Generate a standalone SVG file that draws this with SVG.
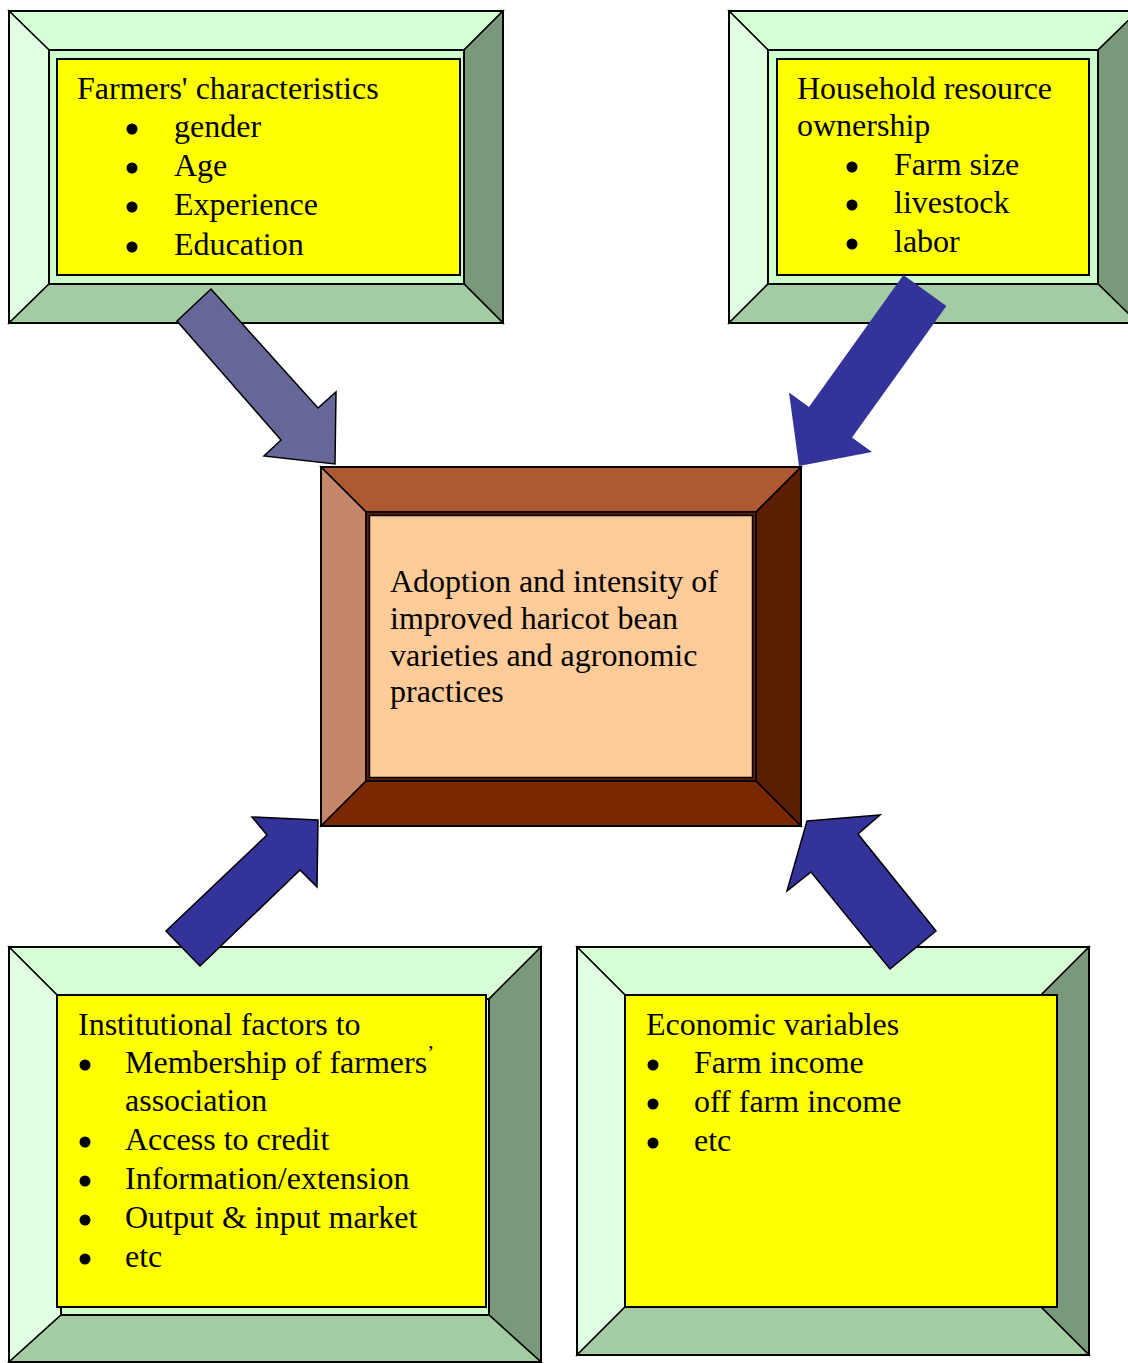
<svg xmlns="http://www.w3.org/2000/svg" width="1128" height="1363" viewBox="0 0 1128 1363">
<style>
text{font-family:"Liberation Serif","Times New Roman",serif;font-size:32px;fill:#000}
.bt{fill:#d6ffd6;stroke:#000;stroke-width:1.5;stroke-linejoin:miter}
.bl{fill:#e0ffe0;stroke:#000;stroke-width:1.5}
.br{fill:#7a997a;stroke:#000;stroke-width:1.5}
.bb{fill:#a3cca3;stroke:#000;stroke-width:1.5}
.in{fill:#ccffcc;stroke:#000;stroke-width:2}
.yl{fill:#ffff00;stroke:#000;stroke-width:2}
.ol{fill:none;stroke:#000;stroke-width:2}
.ct{fill:#ad5a32;stroke:#000;stroke-width:1.5}
.cl{fill:#c4876a;stroke:#000;stroke-width:1.5}
.cr{fill:#5a1e02;stroke:#000;stroke-width:1.5}
.cb{fill:#7a2800;stroke:#000;stroke-width:1.5}
.dot{fill:#000}
.a1{fill:#666699;stroke:#000;stroke-width:1.5;stroke-linejoin:miter}
.a2{fill:#333399;stroke:#000;stroke-width:1.5;stroke-linejoin:miter}
.a3{fill:#333399;stroke:none}
</style>
<rect width="1128" height="1363" fill="#fff"/>

<g id="farmers">
<polygon class="bt" points="9,11 503,11 464,50 49,50"/>
<polygon class="bl" points="9,11 49,50 49,284 9,323"/>
<polygon class="br" points="503,11 503,323 464,284 464,50"/>
<polygon class="bb" points="9,323 49,284 464,284 503,323"/>
<rect class="ol" x="9" y="11" width="494" height="312"/>
<rect class="in" x="49" y="50" width="415" height="234"/>
<rect class="yl" x="57" y="59" width="403" height="216"/>
<text x="77" y="99">Farmers' characteristics</text>
<circle class="dot" cx="132" cy="129" r="5.5"/><text x="174" y="137">gender</text>
<circle class="dot" cx="132" cy="168" r="5.5"/><text x="174" y="176">Age</text>
<circle class="dot" cx="132" cy="207" r="5.5"/><text x="174" y="215">Experience</text>
<circle class="dot" cx="132" cy="247" r="5.5"/><text x="174" y="255">Education</text>
</g>

<g id="household">
<polygon class="bt" points="729,11 1138,11 1098,50 768,50"/>
<polygon class="bl" points="729,11 768,50 768,284 729,323"/>
<polygon class="br" points="1138,11 1138,323 1098,284 1098,50"/>
<polygon class="bb" points="729,323 768,284 1098,284 1138,323"/>
<rect class="ol" x="729" y="11" width="409" height="312"/>
<rect class="in" x="768" y="50" width="330" height="234"/>
<rect class="yl" x="777" y="59" width="312" height="216"/>
<text x="797" y="99">Household resource</text>
<text x="797" y="136">ownership</text>
<circle class="dot" cx="852" cy="167" r="5.5"/><text x="894" y="175">Farm size</text>
<circle class="dot" cx="852" cy="205" r="5.5"/><text x="894" y="213">livestock</text>
<circle class="dot" cx="852" cy="244" r="5.5"/><text x="894" y="252">labor</text>
</g>

<g id="adoption">
<polygon class="ct" points="321,467 801,467 756,512 366,512"/>
<polygon class="cl" points="321,467 366,512 366,781 321,826"/>
<polygon class="cr" points="801,467 801,826 756,781 756,512"/>
<polygon class="cb" points="321,826 366,781 756,781 801,826"/>
<rect class="ol" x="321" y="467" width="480" height="359"/>
<rect x="366" y="512" width="390" height="269" fill="#5a1e02" stroke="#000" stroke-width="1.5"/>
<rect x="369.5" y="515.5" width="383" height="262" fill="#ffcc99" stroke="#000" stroke-width="1.5"/>
<text x="390" y="592">Adoption and intensity of</text>
<text x="390" y="629">improved haricot bean</text>
<text x="390" y="666">varieties and agronomic</text>
<text x="390" y="702">practices</text>
</g>

<g id="institutional">
<polygon class="bt" points="9,947 541,947 489,999 61,999"/>
<polygon class="bl" points="9,947 61,999 61,1315 9,1362"/>
<polygon class="br" points="541,947 541,1362 489,1315 489,999"/>
<polygon class="bb" points="9,1362 61,1315 489,1315 541,1362"/>
<rect class="ol" x="9" y="947" width="532" height="415"/>
<rect class="in" x="61" y="999" width="428" height="316"/>
<rect class="yl" x="57" y="995" width="429" height="312"/>
<text x="78" y="1035">Institutional factors to</text>
<circle class="dot" cx="85" cy="1065" r="5.5"/><text x="125" y="1073">Membership of farmers</text>
<text x="427" y="1060" style="font-size:22px">’</text>
<text x="125" y="1111">association</text>
<circle class="dot" cx="85" cy="1142" r="5.5"/><text x="125" y="1150">Access to credit</text>
<circle class="dot" cx="85" cy="1181" r="5.5"/><text x="125" y="1189">Information/extension</text>
<circle class="dot" cx="85" cy="1220" r="5.5"/><text x="125" y="1228">Output &amp; input market</text>
<circle class="dot" cx="85" cy="1259" r="5.5"/><text x="125" y="1267">etc</text>
</g>

<g id="economic">
<polygon class="bt" points="577,947 1089,947 1041,995 625,995"/>
<polygon class="bl" points="577,947 625,995 625,1307 577,1355"/>
<polygon class="br" points="1089,947 1089,1355 1041,1307 1041,995"/>
<polygon class="bb" points="577,1355 625,1307 1041,1307 1089,1355"/>
<rect class="ol" x="577" y="947" width="512" height="408"/>
<rect class="yl" x="625" y="995" width="432" height="312"/>
<text x="646" y="1035">Economic variables</text>
<circle class="dot" cx="653" cy="1065" r="5.5"/><text x="694" y="1073">Farm income</text>
<circle class="dot" cx="653" cy="1104" r="5.5"/><text x="694" y="1112">off farm income</text>
<circle class="dot" cx="653" cy="1143" r="5.5"/><text x="694" y="1151">etc</text>
</g>

<g id="connectors">
<polygon class="a1" points="211,289 177,321 281,440 264,456 335,464 336,392 318,408"/>
<polygon class="a3" points="799,466 789,392.5 809,407 903.4,275 946.4,306 852,437.6 872,452"/>
<polygon class="a2" points="318,820 252,817 267,835 166,931 200,966 300,870 317,887"/>
<polygon class="a2" points="807,821 880,815 858,834 936,931 890,969 811,872 787,891"/>
</g>
</svg>
